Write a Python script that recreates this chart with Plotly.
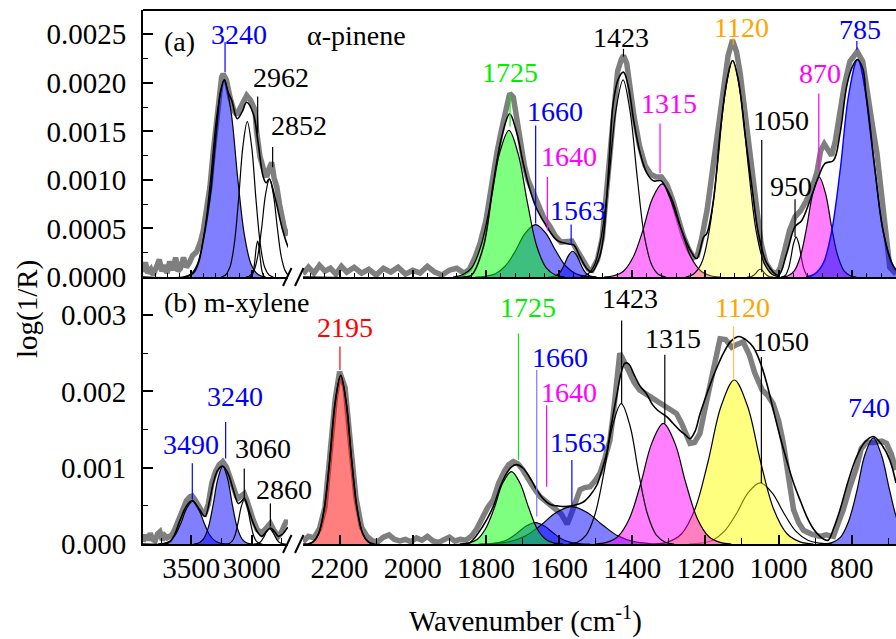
import plotly.graph_objects as go

FONT = "Liberation Serif, Times New Roman, serif"

# ---------------- TOP PANEL (a) alpha-pinene ----------------
# measured spectrum (grey), left segment
ta_gray_wn = [3900, 3880, 3860, 3835, 3815, 3790, 3765, 3745, 3720, 3700, 3680, 3655, 3630, 3610, 3590, 3565,
              3540, 3515, 3490, 3456, 3425, 3401, 3375, 3346, 3318, 3290, 3265, 3249, 3236, 3210, 3180, 3150,
              3125, 3095, 3065, 3042, 3010, 2985, 2973, 2960, 2945, 2932, 2905, 2876, 2855, 2835, 2815, 2793,
              2770, 2752, 2730, 2711, 2700]
ta_gray_val = [0.00005, 0.00015, 0.00004, 0.00008, 0.00002, 0.0001, 0.00018, 0.00006, 0.00012, 0.00004, 0.00016,
               0.00007, 0.0002, 0.00006, 0.00009, 0.0002, 0.0001, 0.00015, 0.00022, 0.00026, 0.00036, 0.00048,
               0.00068, 0.00093, 0.0013, 0.00165, 0.00195, 0.00206, 0.00209, 0.00203, 0.00185, 0.00172, 0.00167,
               0.00175, 0.00183, 0.00187, 0.00182, 0.00176, 0.00172, 0.0015, 0.0013, 0.00124, 0.00112, 0.00103,
               0.00112, 0.00118, 0.00102, 0.00093, 0.00075, 0.00062, 0.0005, 0.00045, 0.00043]
# fit envelope, left segment
ta_fit_wn = [3900, 3560, 3483, 3440, 3401, 3346, 3290, 3260, 3227, 3195, 3166, 3120, 3080, 3042, 2987, 2946,
             2905, 2880, 2855, 2808, 2752, 2706, 2690]
ta_fit_val = [0, 0, 0.00004, 0.00015, 0.00038, 0.00082, 0.00155, 0.0019, 0.00203, 0.0019, 0.00182, 0.00163,
              0.0017, 0.0018, 0.00168, 0.00137, 0.00103, 0.00097, 0.00101, 0.00082, 0.00052, 0.00033, 0.00029]
# components, left segment
ta_3240_wn = [3564, 3508, 3452, 3396, 3340, 3284, 3228, 3172, 3116, 3060, 3004, 2948, 2892]
ta_3240_val = [0, 0.000026, 0.000127, 0.000426, 0.001015, 0.001707, 0.00203, 0.001707, 0.001015, 0.000426, 0.000127, 0.000026, 0]
ta_2962_wn = [3253, 3217, 3181, 3145, 3109, 3073, 3037, 3001, 2965, 2929, 2893, 2857, 2821]
ta_2962_val = [0, 0.000021, 0.0001, 0.000336, 0.0008, 0.001346, 0.0016, 0.001346, 0.0008, 0.000336, 0.0001, 0.000021, 0]
ta_2950_wn = [3017, 3006, 2995, 2984, 2973, 2962, 2951, 2940, 2929, 2918, 2907, 2896, 2885]
ta_2950_val = [0, 0.000005, 0.000023, 0.000078, 0.000185, 0.000311, 0.00037, 0.000311, 0.000185, 0.000078, 0.000023, 0.000005, 0]
ta_2852_wn = [3048, 3016, 2983, 2951, 2918, 2886, 2853, 2821, 2788, 2756, 2723, 2691, 2658]
ta_2852_val = [0, 0.000013, 0.000063, 0.000212, 0.000505, 0.000849, 0.00101, 0.000849, 0.000505, 0.000212, 0.000063, 0.000013, 0]

# measured spectrum (grey), right segment
tb_gray_wn = [2300, 2285, 2270, 2255, 2240, 2225, 2210, 2195, 2180, 2160, 2140, 2120, 2100, 2080, 2060, 2040,
              2020, 2000, 1980, 1960, 1940, 1920, 1900, 1880, 1860, 1845, 1830, 1815, 1800, 1785, 1770, 1757,
              1745, 1735, 1725, 1716, 1705, 1695, 1685, 1670, 1660, 1643, 1625, 1610, 1595, 1580, 1565, 1550,
              1535, 1520, 1510, 1495, 1482, 1470, 1460, 1450, 1440, 1430, 1424, 1415, 1405, 1395, 1380, 1365,
              1350, 1335, 1320, 1305, 1290, 1275, 1260, 1245, 1232, 1222, 1210, 1195, 1180, 1165, 1150, 1138,
              1126, 1115, 1105, 1092, 1078, 1062, 1048, 1035, 1020, 1005, 995, 985, 970, 955, 940, 925, 910,
              895, 885, 875, 865, 855, 845, 832, 820, 805, 792, 785, 770, 758, 745, 731, 720, 712, 704, 696, 679]
tb_gray_val = [0.00003, 0.0001, 0.00004, 0.00012, 0.00006, 0.00009, 0.00003, 0.00011, 0.00005, 0.0001, 0.00004,
               0.00008, 0.00002, 0.00009, 0.00005, 0.0001, 0.00003, 0.00007, 0.00004, 0.00011, 0.00005, 0.00002,
               0.00007, 0.00009, 0.00004, 0.00008, 0.0002, 0.00036, 0.00058, 0.00095, 0.00128, 0.00152, 0.00172,
               0.00189, 0.00185, 0.00165, 0.00135, 0.00115, 0.001, 0.00085, 0.00078, 0.00062, 0.00052, 0.00042,
               0.00036, 0.00036, 0.00037, 0.00027, 0.00016, 0.00008, 0.00007, 0.00018, 0.0004, 0.0009, 0.0013,
               0.0018, 0.00212, 0.00224, 0.00228, 0.0022, 0.0019, 0.00165, 0.00135, 0.00115, 0.00106, 0.00103,
               0.00103, 0.00095, 0.0008, 0.0006, 0.00042, 0.00028, 0.0002, 0.00022, 0.0004, 0.0007, 0.0011,
               0.0016, 0.002, 0.00228, 0.00244, 0.00232, 0.0021, 0.0017, 0.0012, 0.0007, 0.00035, 0.00015,
               0.00006, 0.00003, 0.0001, 0.00025, 0.00048, 0.00062, 0.00068, 0.00078, 0.0009, 0.00108, 0.0013,
               0.00137, 0.0013, 0.00125, 0.0014, 0.00168, 0.00198, 0.00222, 0.0023, 0.00232, 0.00222, 0.00196,
               0.0016, 0.00127, 0.00092, 0.00058, 0.0003, 0.0001, 0.00003]
# fit envelope, right segment
tb_fit_wn = [2300, 1860, 1839, 1807, 1780, 1757, 1735, 1716, 1698, 1679, 1661, 1634, 1606, 1574, 1560, 1543,
             1525, 1511, 1490, 1479, 1465, 1452, 1438, 1424, 1410, 1396, 1378, 1360, 1342, 1321, 1297, 1269,
             1242, 1224, 1205, 1196, 1178, 1160, 1141, 1126, 1110, 1092, 1073, 1055, 1032, 1000, 978, 955, 937,
             914, 891, 873, 850, 832, 814, 800, 785, 770, 761, 737, 714, 690, 679]
tb_fit_val = [0, 0, 0.00002, 0.00031, 0.00096, 0.00144, 0.00168, 0.00149, 0.00117, 0.00089, 0.0007, 0.00052,
              0.00038, 0.00034, 0.00033, 0.00021, 0.00009, 0.00005, 0.0002, 0.00041, 0.00108, 0.00179, 0.00204,
              0.00211, 0.00195, 0.00161, 0.00127, 0.00107, 0.00099, 0.00099, 0.00082, 0.00052, 0.00028, 0.00019,
              0.00041, 0.00045, 0.00079, 0.00148, 0.00203, 0.00223, 0.00203, 0.00148, 0.00093, 0.00045, 0.00014,
              0.00002, 0.00024, 0.00052, 0.00058, 0.00079, 0.00103, 0.00117, 0.0012, 0.00148, 0.00196, 0.00215,
              0.00224, 0.00215, 0.00188, 0.00112, 0.00047, 0.00014, 0.00007]
# components, right segment
tb_1725_wn = [1890, 1865, 1839, 1814, 1788, 1763, 1737, 1712, 1686, 1661, 1635, 1610, 1584]
tb_1725_val = [0, 0.00002, 0.000094, 0.000317, 0.000755, 0.00127, 0.00151, 0.00127, 0.000755, 0.000317, 0.000094, 0.00002, 0]
tb_1660_wn = [1829, 1802, 1774, 1747, 1719, 1692, 1664, 1637, 1609, 1582, 1554, 1527, 1499]
tb_1660_val = [0, 0.000007, 0.000034, 0.000113, 0.00027, 0.000454, 0.00054, 0.000454, 0.00027, 0.000113, 0.000034, 0.000007, 0]
tb_1563_wn = [1629, 1618, 1607, 1596, 1585, 1574, 1563, 1552, 1541, 1530, 1519, 1508, 1497]
tb_1563_val = [0, 0.0000034, 0.0000166, 0.0000557, 0.000133, 0.000223, 0.000265, 0.000223, 0.000133, 0.0000557, 0.0000166, 0.0000034, 0]
tb_1423_wn = [1542, 1523, 1503, 1484, 1464, 1445, 1425, 1406, 1386, 1367, 1347, 1328, 1308]
tb_1423_val = [0, 0.000026, 0.000127, 0.000426, 0.001015, 0.001707, 0.00203, 0.001707, 0.001015, 0.000426, 0.000127, 0.000026, 0]
tb_1315_wn = [1477, 1451, 1424, 1398, 1371, 1345, 1318, 1292, 1265, 1239, 1212, 1186, 1159]
tb_1315_val = [0, 0.0000125, 0.00006, 0.0002, 0.00048, 0.000807, 0.00096, 0.000807, 0.00048, 0.0002, 0.00006, 0.0000125, 0]
tb_1120_wn = [1254, 1233, 1211, 1190, 1168, 1147, 1125, 1104, 1082, 1061, 1039, 1018, 996]
tb_1120_val = [0, 0.000029, 0.000139, 0.000468, 0.001115, 0.001875, 0.00223, 0.001875, 0.001115, 0.000468, 0.000139, 0.000029, 0]
tb_1050_wn = [1086, 1080, 1074, 1068, 1062, 1056, 1050, 1044, 1038, 1032, 1026, 1020, 1014]
tb_1050_val = [0, 0.000001, 0.000005, 0.000017, 0.00004, 0.000067, 0.00008, 0.000067, 0.00004, 0.000017, 0.000005, 0.000001, 0]
tb_950_wn = [994, 987, 980, 973, 966, 959, 952, 945, 938, 931, 924, 917, 910]
tb_950_val = [0, 0.0000053, 0.0000256, 0.000086, 0.000205, 0.000345, 0.00041, 0.000345, 0.000205, 0.000086, 0.0000256, 0.0000053, 0]
tb_870_wn = [991, 974, 957, 940, 923, 906, 889, 872, 855, 838, 821, 804, 787]
tb_870_val = [0, 0.0000134, 0.000064, 0.000216, 0.000515, 0.000866, 0.00103, 0.000866, 0.000515, 0.000216, 0.000064, 0.0000134, 0]
tb_785_wn = [925, 902, 878, 855, 831, 808, 784, 761, 737, 714, 690, 667, 643]
tb_785_val = [0, 0.000029, 0.00014, 0.00047, 0.00112, 0.001884, 0.00224, 0.001884, 0.00112, 0.00047, 0.00014, 0.000029, 0]

# ---------------- BOTTOM PANEL (b) m-xylene ----------------
ba_gray_wn = [3900, 3880, 3860, 3840, 3820, 3800, 3780, 3760, 3740, 3720, 3700, 3680, 3660, 3640, 3622, 3600,
              3570, 3540, 3510, 3492, 3470, 3440, 3410, 3387, 3360, 3330, 3300, 3270, 3240, 3210, 3180, 3150,
              3125, 3111, 3085, 3062, 3040, 3015, 2987, 2955, 2918, 2890, 2870, 2846, 2820, 2800, 2780, 2760,
              2740, 2720, 2711, 2700]
ba_gray_val = [0.00003, 0.00012, 0.00005, 0.00014, 0.00006, 0.00004, 0.00013, 0.00016, 0.00005, 0.00011, 0.00008,
               0.0001, 0.00012, 0.00018, 0.00025, 0.00036, 0.00048, 0.00057, 0.00062, 0.00063, 0.00058, 0.00049,
               0.00042, 0.0004, 0.00052, 0.0008, 0.00095, 0.00104, 0.00108, 0.00101, 0.00087, 0.0007, 0.00062,
               0.0006, 0.00063, 0.00066, 0.00057, 0.00042, 0.00031, 0.00019, 0.00014, 0.00019, 0.00024, 0.00027,
               0.00019, 0.00013, 0.0001, 0.00014, 0.00022, 0.00028, 0.00031, 0.00026]
ba_fit_wn = [3900, 3720, 3677, 3640, 3594, 3540, 3492, 3440, 3387, 3350, 3318, 3280, 3240, 3195, 3153, 3111,
             3085, 3062, 3025, 2987, 2950, 2918, 2880, 2846, 2810, 2780, 2745, 2711, 2700]
ba_fit_val = [0, 0, 0.00003, 0.00012, 0.00031, 0.0005, 0.00057, 0.00047, 0.00036, 0.00056, 0.0008, 0.00097,
              0.00102, 0.00092, 0.00071, 0.00053, 0.00056, 0.0006, 0.00045, 0.00027, 0.00015, 0.0001, 0.00016,
              0.00021, 0.00016, 0.0001, 0.00013, 0.0002, 0.00022]
ba_3490_wn = [3775, 3728, 3680, 3633, 3585, 3538, 3490, 3443, 3395, 3348, 3300, 3253, 3205]
ba_3490_val = [0, 0.0000073, 0.000035, 0.000118, 0.00028, 0.000471, 0.00056, 0.000471, 0.00028, 0.000118, 0.000035, 0.0000073, 0]
ba_3240_wn = [3480, 3440, 3400, 3360, 3320, 3280, 3240, 3200, 3160, 3120, 3080, 3040, 3000]
ba_3240_val = [0, 0.0000133, 0.0000638, 0.000214, 0.00051, 0.000858, 0.00102, 0.000858, 0.00051, 0.000214, 0.0000638, 0.0000133, 0]
ba_3060_wn = [3212, 3187, 3162, 3137, 3112, 3087, 3062, 3037, 3012, 2987, 2962, 2937, 2912]
ba_3060_val = [0, 0.0000075, 0.0000363, 0.000122, 0.00029, 0.000488, 0.00058, 0.000488, 0.00029, 0.000122, 0.0000363, 0.0000075, 0]
ba_2860_wn = [2987, 2965, 2942, 2920, 2897, 2875, 2852, 2830, 2807, 2785, 2762, 2740, 2717]
ba_2860_val = [0, 0.0000026, 0.0000125, 0.000042, 0.0001, 0.000168, 0.0002, 0.000168, 0.0001, 0.000042, 0.0000125, 0.0000026, 0]

bb_gray_wn = [2300, 2285, 2270, 2255, 2240, 2225, 2212, 2200, 2185, 2170, 2155, 2140, 2125, 2110, 2095, 2080,
              2065, 2050, 2035, 2020, 2005, 1990, 1975, 1960, 1945, 1930, 1915, 1900, 1885, 1870, 1855, 1840,
              1825, 1810, 1795, 1780, 1765, 1750, 1738, 1725, 1712, 1700, 1688, 1670, 1652, 1637, 1625, 1610,
              1595, 1585, 1578, 1570, 1561, 1552, 1543, 1530, 1515, 1500, 1488, 1475, 1461, 1452, 1443, 1434,
              1425, 1415, 1407, 1395, 1380, 1360, 1342, 1325, 1306, 1290, 1279, 1265, 1252, 1242, 1230, 1215,
              1200, 1183, 1170, 1160, 1145, 1128, 1112, 1097, 1080, 1065, 1045, 1030, 1015, 1000, 987, 973,
              959, 945, 932, 910, 887, 870, 850, 835, 823, 805, 787, 774, 760, 741, 718, 705, 692, 679]
bb_gray_val = [0.00003, 0.0001, 0.00008, 0.0002, 0.00048, 0.0012, 0.0019, 0.00226, 0.00205, 0.0013, 0.0006,
               0.00022, 0.0001, 0.00004, 0.00003, 0.00009, 0.00012, 0.00006, 0.00004, 0.00006, 0.00003, 0.00008,
               0.00005, 0.0001, 0.00004, 0.00002, 0.00006, 0.00009, 0.00004, 0.00006, 0.00005, 0.0001, 0.0002,
               0.00034, 0.00048, 0.00058, 0.0008, 0.00095, 0.00104, 0.00108, 0.00105, 0.00098, 0.00088, 0.00074,
               0.00062, 0.00056, 0.00053, 0.00046, 0.0004, 0.00032, 0.00026, 0.00035, 0.00049, 0.0006, 0.00071,
               0.00074, 0.00075, 0.00084, 0.00093, 0.00112, 0.00136, 0.0017, 0.00205, 0.0025, 0.00242, 0.00232,
               0.00224, 0.00212, 0.00202, 0.00196, 0.00191, 0.00186, 0.0018, 0.00175, 0.00171, 0.00158, 0.00142,
               0.00132, 0.00133, 0.00145, 0.0018, 0.00219, 0.00252, 0.00269, 0.00268, 0.00258, 0.00262, 0.00265,
               0.00248, 0.00224, 0.00202, 0.00195, 0.00184, 0.00162, 0.00132, 0.0009, 0.00045, 0.00028, 0.00018,
               0.00013, 0.0001, 0.00012, 0.0001, 0.0003, 0.00045, 0.00075, 0.001, 0.00125, 0.00133, 0.00133,
               0.00135, 0.00132, 0.00118, 0.00097]
bb_fit_wn = [2300, 2287, 2272, 2257, 2242, 2227, 2212, 2197, 2182, 2167, 2152, 2137, 2122, 2107, 1860, 1843,
             1810, 1780, 1760, 1743, 1730, 1716, 1700, 1688, 1675, 1661, 1648, 1634, 1620, 1606, 1585, 1565,
             1550, 1534, 1515, 1497, 1484, 1470, 1457, 1443, 1430, 1420, 1410, 1395, 1380, 1361, 1345, 1330,
             1306, 1288, 1270, 1255, 1242, 1228, 1215, 1196, 1175, 1151, 1130, 1108, 1090, 1069, 1050, 1032,
             1015, 996, 978, 959, 940, 923, 905, 887, 875, 864, 850, 832, 810, 787, 765, 741, 718, 696, 679]
bb_fit_val = [0, 0, 0.00003, 0.00014, 0.00046, 0.0011, 0.00186, 0.00221, 0.00186, 0.0011, 0.00046, 0.00014,
              0.00003, 0, 0, 0.00002, 0.00022, 0.00049, 0.00076, 0.00093, 0.00101, 0.00104, 0.001, 0.00093,
              0.00083, 0.00071, 0.00062, 0.00055, 0.00051, 0.0005, 0.00049, 0.0005, 0.00052, 0.00055, 0.00064,
              0.00077, 0.00095, 0.00119, 0.00157, 0.00193, 0.00225, 0.00237, 0.00236, 0.00222, 0.00208, 0.00197,
              0.00183, 0.00175, 0.00167, 0.00158, 0.00149, 0.00143, 0.00138, 0.00148, 0.0017, 0.00197, 0.00224,
              0.0025, 0.00266, 0.00272, 0.00268, 0.00258, 0.00238, 0.0021, 0.00177, 0.00141, 0.0011, 0.0008,
              0.00056, 0.00036, 0.0002, 0.0001, 0.00006, 0.00005, 0.0002, 0.00045, 0.00082, 0.00114, 0.00133,
              0.00141, 0.0013, 0.0011, 0.0008]
bb_2195_wn = [2287, 2272, 2257, 2242, 2227, 2212, 2197, 2182, 2167, 2152, 2137, 2122, 2107]
bb_2195_val = [0, 0.0000287, 0.000138, 0.000464, 0.001105, 0.001859, 0.00221, 0.001859, 0.001105, 0.000464, 0.000138, 0.0000287, 0]
bb_1725_wn = [1871, 1848, 1824, 1801, 1777, 1754, 1730, 1707, 1683, 1660, 1636, 1613, 1589]
bb_1725_val = [0, 0.0000124, 0.0000594, 0.0002, 0.000475, 0.000799, 0.00095, 0.000799, 0.000475, 0.0002, 0.0000594, 0.0000124, 0]
bb_1660_wn = [1815, 1790, 1765, 1740, 1715, 1690, 1665, 1640, 1615, 1590, 1565, 1540, 1515]
bb_1660_val = [0, 0.0000036, 0.0000175, 0.0000588, 0.00014, 0.000235, 0.00028, 0.000235, 0.00014, 0.0000588, 0.0000175, 0.0000036, 0]
bb_1563_wn = [1820, 1778, 1735, 1693, 1650, 1608, 1565, 1523, 1480, 1438, 1395, 1353, 1310]
bb_1563_val = [0, 0.0000064, 0.0000306, 0.000103, 0.000245, 0.000412, 0.00049, 0.000412, 0.000245, 0.000103, 0.0000306, 0.0000064, 0]
bb_1423_wn = [1574, 1550, 1526, 1502, 1478, 1454, 1430, 1406, 1382, 1358, 1334, 1310, 1286]
bb_1423_val = [0, 0.0000239, 0.000115, 0.000386, 0.00092, 0.001547, 0.00184, 0.001547, 0.00092, 0.000386, 0.000115, 0.0000239, 0]
bb_1315_wn = [1501, 1470, 1439, 1408, 1377, 1346, 1315, 1284, 1253, 1222, 1191, 1160, 1129]
bb_1315_val = [0, 0.0000205, 0.0000988, 0.000332, 0.00079, 0.001329, 0.00158, 0.001329, 0.00079, 0.000332, 0.0000988, 0.0000205, 0]
bb_1050_wn = [1245, 1213, 1180, 1148, 1115, 1083, 1050, 1018, 985, 953, 920, 888, 855]
bb_1050_val = [0, 0.0000104, 0.00005, 0.000168, 0.0004, 0.000673, 0.0008, 0.000673, 0.0004, 0.000168, 0.00005, 0.0000104, 0]
bb_1120_wn = [1337, 1301, 1265, 1229, 1193, 1157, 1121, 1085, 1049, 1013, 977, 941, 905]
bb_1120_val = [0, 0.000028, 0.000134, 0.000452, 0.001075, 0.001808, 0.00215, 0.001808, 0.001075, 0.000452, 0.000134, 0.000028, 0]
bb_740_wn = [876, 854, 831, 809, 786, 764, 741, 719, 696, 674, 651, 629, 606]
bb_740_val = [0, 0.000018, 0.0000869, 0.000292, 0.000695, 0.001169, 0.00139, 0.001169, 0.000695, 0.000292, 0.0000869, 0.000018, 0]

# Peak labels: text, text colour, line colour, x of leader line, x shift of text (px), text y, line y0, line y1
top_left_labels = [
    ("3240", "#0000ff", "#0000ff", 3221, 14, 0.0025, 0.00242, 0.00211),
    ("2962", "black", "black", 2951, 23, 0.00205, 0.00186, 0.00148),
    ("2852", "black", "black", 2827, 26, 0.00156, 0.00134, 0.00113),
]
top_right_labels = [
    ("1725", "#00ee00", "#00ee00", 1734, 0, 0.00211, 0.00188, 0.00155),
    ("1660", "#0000ff", "#0000ff", 1664, 19, 0.0017, 0.00156, 0.00055),
    ("1640", "#ff00ff", "#ff00ff", 1632, 22, 0.00124, 0.00103, 0.00048),
    ("1563", "#0000ff", "#0000ff", 1567, 7, 0.00069, 0.00054, 0.00033),
    ("1423", "black", "black", 1424, -2, 0.00247, 0.00235, 0.00227),
    ("1315", "#ff00ff", "#ff00ff", 1324, 9, 0.00179, 0.00158, 0.00107),
    ("1120", "#ffa500", "#ffa500", 1124, 8, 0.00257, 0.00246, 0.00239),
    ("1050", "black", "black", 1046, 19, 0.00161, 0.00141, 0.00005),
    ("950", "black", "black", 955, -4, 0.00093, 0.0008, 0.00041),
    ("870", "#ff00ff", "#ff00ff", 890, 1, 0.0021, 0.00189, 0.0011),
    ("785", "#0000ff", "#0000ff", 786, 3, 0.00255, 0.00243, 0.00234),
]
bot_left_labels = [
    ("3490", "#0000ff", "#0000ff", 3492, -1, 0.0013, 0.00106, 0.00058),
    ("3240", "#0000ff", "#0000ff", 3216, 9, 0.00194, 0.0016, 0.00112),
    ("3060", "black", "black", 3062, 19, 0.00125, 0.00099, 0.00058),
    ("2860", "black", "black", 2846, 14, 0.00071, 0.00053, 0.00023),
]
bot_right_labels = [
    ("2195", "#ff0000", "#ff0000", 2199, 5, 0.00284, 0.00259, 0.00228),
    ("1725", "#00ee00", "#00ee00", 1711, 10, 0.0031, 0.00276, 0.0011),
    ("1660", "#0000ff", "#7777ff", 1661, 23, 0.00244, 0.00228, 0.00036),
    ("1640", "#ff00ff", "#ff00ff", 1634, 22, 0.00199, 0.00182, 0.00075),
    ("1563", "#0000ff", "#0000ff", 1565, 6, 0.00133, 0.0011, 0.00051),
    ("1423", "black", "black", 1429, 8, 0.00322, 0.00293, 0.00184),
    ("1315", "black", "black", 1311, 8, 0.00269, 0.00248, 0.00158),
    ("1120", "#ffa500", "#ffc34d", 1123, 9, 0.0031, 0.00285, 0.00215),
    ("1050", "black", "black", 1047, 20, 0.00266, 0.00245, 0.0008),
    ("740", "#0000ff", None, 753, 0, 0.00179, None, None),
]

W, H = 896, 639
XL = (143 / W, 288 / W)
XR = (303 / W, 1.0)
YT = (1 - 277 / H, 1 - 10 / H)
YB = (1 - 544 / H, 1 - 277 / H)

fig = go.Figure()


def add(wn, val, xa, ya, lc, lw, fillcolor=None, shape="spline"):
    fig.add_trace(go.Scatter(
        x=wn, y=val, xaxis=xa, yaxis=ya, mode="lines",
        line=dict(color=lc, width=lw, shape=shape, smoothing=1.0 if shape == "spline" else None),
        fill="tozeroy" if fillcolor else None, fillcolor=fillcolor,
        showlegend=False, hoverinfo="skip"))


GRAY = "#7f7f7f"
BLUE = "rgba(0,0,255,0.5)"
GREEN = "rgba(0,255,0,0.5)"
MAG = "rgba(255,0,255,0.5)"
RED = "rgba(255,0,0,0.5)"

# top-left
add(ta_gray_wn, ta_gray_val, "x", "y", GRAY, 5.5, shape="linear")
add(ta_3240_wn, ta_3240_val, "x", "y", "black", 1.2, BLUE)
add(ta_2962_wn, ta_2962_val, "x", "y", "black", 1.2)
add(ta_2950_wn, ta_2950_val, "x", "y", "black", 1.2)
add(ta_2852_wn, ta_2852_val, "x", "y", "black", 1.2)
add(ta_fit_wn, ta_fit_val, "x", "y", "black", 1.6)

# top-right
add(tb_gray_wn, tb_gray_val, "x2", "y2", GRAY, 5.5, shape="linear")
add(tb_1660_wn, tb_1660_val, "x2", "y2", "black", 1.2, BLUE)
add(tb_1563_wn, tb_1563_val, "x2", "y2", "black", 1.2, BLUE)
add(tb_1725_wn, tb_1725_val, "x2", "y2", "black", 1.2, GREEN)
add(tb_1315_wn, tb_1315_val, "x2", "y2", "black", 1.2, MAG)
add(tb_1050_wn, tb_1050_val, "x2", "y2", "black", 1.2)
add(tb_1120_wn, tb_1120_val, "x2", "y2", "black", 1.2, "rgba(255,255,0,0.28)")
add(tb_1423_wn, tb_1423_val, "x2", "y2", "black", 1.2)
add(tb_950_wn, tb_950_val, "x2", "y2", "black", 1.2)
add(tb_870_wn, tb_870_val, "x2", "y2", "black", 1.2, MAG)
add(tb_785_wn, tb_785_val, "x2", "y2", "#0000ff", 1.4, BLUE)
add(tb_fit_wn, tb_fit_val, "x2", "y2", "black", 1.6)

# bottom-left
add(ba_gray_wn, ba_gray_val, "x3", "y3", GRAY, 5.5, shape="linear")
add(ba_3490_wn, ba_3490_val, "x3", "y3", "black", 1.2, BLUE)
add(ba_3240_wn, ba_3240_val, "x3", "y3", "black", 1.2, BLUE)
add(ba_3060_wn, ba_3060_val, "x3", "y3", "black", 1.2)
add(ba_2860_wn, ba_2860_val, "x3", "y3", "black", 1.2)
add(ba_fit_wn, ba_fit_val, "x3", "y3", "black", 1.6)

# bottom-right
add(bb_gray_wn, bb_gray_val, "x4", "y4", GRAY, 5.5, shape="linear")
add(bb_2195_wn, bb_2195_val, "x4", "y4", "black", 1.2, RED)
add(bb_1660_wn, bb_1660_val, "x4", "y4", "black", 1.2, BLUE)
add(bb_1563_wn, bb_1563_val, "x4", "y4", "black", 1.2, BLUE)
add(bb_1725_wn, bb_1725_val, "x4", "y4", "black", 1.2, GREEN)
add(bb_1050_wn, bb_1050_val, "x4", "y4", "black", 1.2)
add(bb_1120_wn, bb_1120_val, "x4", "y4", "black", 1.2, "rgba(255,255,0,0.5)")
add(bb_1315_wn, bb_1315_val, "x4", "y4", "black", 1.2, MAG)
add(bb_1423_wn, bb_1423_val, "x4", "y4", "black", 1.2)
add(bb_740_wn, bb_740_val, "x4", "y4", "black", 1.2, BLUE)
add(bb_fit_wn, bb_fit_val, "x4", "y4", "black", 1.6)

# labels
for labels, xr, yr in ((top_left_labels, "x", "y"), (top_right_labels, "x2", "y2"),
                       (bot_left_labels, "x3", "y3"), (bot_right_labels, "x4", "y4")):
    for text, tc, lc, lx, dx, ty, y0, y1 in labels:
        fig.add_annotation(x=lx, y=ty, xref=xr, yref=yr, text=text, showarrow=False, xshift=dx,
                           xanchor="center", yanchor="middle",
                           font=dict(family=FONT, size=28, color=tc))
        if lc is not None:
            fig.add_shape(type="line", xref=xr, yref=yr, x0=lx, x1=lx, y0=y0, y1=y1,
                          line=dict(color=lc, width=1.2))

fig.add_annotation(x=3602, y=0.00243, xref="x", yref="y", text="(a)", showarrow=False,
                   xanchor="center", yanchor="middle", font=dict(family=FONT, size=28, color="black"))
fig.add_annotation(x=2155, y=0.00249, xref="x2", yref="y2", text="α-pinene", showarrow=False,
                   xanchor="center", yanchor="middle", font=dict(family=FONT, size=28, color="black"))
fig.add_annotation(x=3743, y=0.00317, xref="x3", yref="y3", text="(b) m-xylene", showarrow=False,
                   xanchor="left", yanchor="middle", font=dict(family=FONT, size=28, color="black"))

# axis titles
fig.add_annotation(x=27 / W, y=1 - 309 / H, xref="paper", yref="paper", text="log(1/R)", textangle=-90,
                   xanchor="center", yanchor="middle",
                   showarrow=False, font=dict(family=FONT, size=29, color="black"))
fig.add_annotation(x=525 / W, y=1 - 619 / H, xref="paper", yref="paper", text="Wavenumber (cm<sup>-1</sup>)",
                   xanchor="center", yanchor="middle",
                   showarrow=False, font=dict(family=FONT, size=29, color="black"))

# frame top line and axis-break marks
fig.add_shape(type="line", xref="paper", yref="paper", x0=XL[0], x1=1.0, y0=YT[1], y1=YT[1],
              line=dict(color="black", width=2))
for yb in (277, 544):
    for x0 in (283, 295):
        fig.add_shape(type="line", xref="paper", yref="paper",
                      x0=x0 / W, x1=(x0 + 8.5) / W, y0=1 - (yb + 9) / H, y1=1 - (yb - 9) / H,
                      line=dict(color="black", width=2))

tickfont = dict(family=FONT, size=29, color="black")


def xax(domain, rng, anchor, dtick, minor, labels, ticklen):
    return dict(domain=list(domain), range=rng, anchor=anchor, showline=True, linecolor="black", linewidth=2,
                ticks="inside", ticklen=ticklen, tickwidth=1.5, tickcolor="black", dtick=dtick, tick0=0,
                minor=dict(ticks="inside", ticklen=ticklen - 3, tickwidth=1.2, tickcolor="black", dtick=minor,
                           showgrid=False),
                showticklabels=labels, tickfont=tickfont, ticklabelstandoff=-3, automargin=False,
                showgrid=False, zeroline=False, fixedrange=True)


def yax(domain, rng, anchor, dtick, minor, fmt, visible=True):
    return dict(domain=list(domain), range=rng, anchor=anchor, visible=visible, showline=True, linecolor="black",
                linewidth=2, ticks="inside", ticklen=10, tickwidth=1.5, tickcolor="black", dtick=dtick, tick0=0,
                minor=dict(ticks="inside", ticklen=5, tickwidth=1.2, tickcolor="black", dtick=minor,
                           showgrid=False),
                tickformat=fmt, tickfont=tickfont, ticklabelstandoff=9, automargin=False,
                showgrid=False, zeroline=False, fixedrange=True)


fig.update_layout(
    width=W, height=H, margin=dict(l=0, r=0, t=0, b=0, pad=0, autoexpand=False),
    paper_bgcolor="white", plot_bgcolor="white", showlegend=False,
    xaxis=xax(XL, [3900, 2700], "y", 500, 100, False, 7),
    xaxis2=xax(XR, [2300, 679], "y2", 200, 40, False, 7),
    xaxis3=xax(XL, [3900, 2700], "y3", 500, 250, True, 9),
    xaxis4=xax(XR, [2300, 679], "y4", 200, 100, True, 9),
    yaxis=yax(YT, [0, 0.00275], "x", 0.0005, 0.00025, ".4f"),
    yaxis2=yax(YT, [0, 0.00275], "x2", 0.0005, 0.00025, ".4f", visible=False),
    yaxis3=yax(YB, [0, 0.0035], "x3", 0.001, 0.0005, ".3f"),
    yaxis4=yax(YB, [0, 0.0035], "x4", 0.001, 0.0005, ".3f", visible=False),
)

fig.write_html("out.html", config={"displayModeBar": False},
               post_script="document.body.style.margin='0';document.body.style.overflow='hidden';")
